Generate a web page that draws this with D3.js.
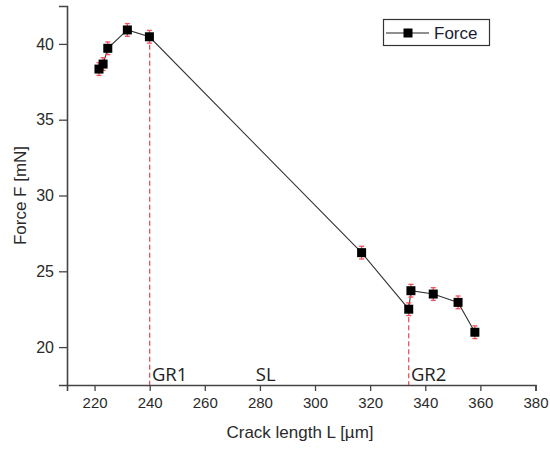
<!DOCTYPE html>
<html>
<head>
<meta charset="utf-8">
<script src="https://cdn.jsdelivr.net/npm/d3@7"></script>
<style>
  html, body { margin: 0; padding: 0; background: #fff; }
  svg { display: block; }
</style>
</head>
<body>
<svg id="chart" width="550" height="449"></svg>
<script>
// Measured crack lengths (µm) and the corresponding force (mN)
const crackLength = [221.6, 223.1, 224.8, 231.9, 239.9, 316.9, 334.0, 334.8, 342.9, 351.9, 358.0];
const force       = [38.34, 38.67, 39.71, 40.92, 40.47, 26.23, 22.50, 23.72, 23.50, 22.95, 20.98];
const forceError  = [0.42, 0.42, 0.42, 0.42, 0.42, 0.42, 0.42, 0.42, 0.42, 0.42, 0.42];

// Region boundaries and labels
const boundaryX = [240, 334];
const boundaryF = [40.47, 22.50];
const regionLabels = ["GR1", "SL", "GR2"];
const regionLabelX = [240.8, 278.5, 334.8];

const xTicks = [220, 240, 260, 280, 300, 320, 340, 360, 380];
const xMinorTicks = [210, 230, 250, 270, 290, 310, 330, 350, 370];
const yTicks = [20, 25, 30, 35, 40];
const yMinorTicks = [17.5, 22.5, 27.5, 32.5, 37.5, 42.5];

const svg = d3.select("#chart");
const x = d3.scaleLinear().domain([210, 380]).range([67, 535.5]);
const y = d3.scaleLinear().domain([17.5, 42.5]).range([385, 6]);

const axisColor = "#444";
const labelFont = "'Liberation Sans', Arial, sans-serif";

// X axis
const gx = svg.append("g").attr("transform", `translate(0,${y(17.5)})`);
gx.call(d3.axisBottom(x).tickValues(xMinorTicks).tickSize(3).tickFormat(""));
gx.call(d3.axisBottom(x).tickValues(xTicks).tickSize(6).tickPadding(6).tickFormat(d3.format("d")));
gx.selectAll("path.domain").attr("stroke", axisColor).attr("stroke-width", 1.6);
gx.selectAll("line").attr("stroke", axisColor).attr("stroke-width", 1.3);
gx.selectAll("text").attr("font-family", labelFont).attr("font-size", 15).attr("fill", "#2a2a2a");

// Y axis
const gy = svg.append("g").attr("transform", `translate(${x(210)},0)`);
gy.call(d3.axisLeft(y).tickValues(yMinorTicks).tickSize(4).tickFormat(""));
gy.call(d3.axisLeft(y).tickValues(yTicks).tickSize(8).tickPadding(5).tickFormat(d3.format("d")));
gy.selectAll("path.domain").attr("stroke", axisColor).attr("stroke-width", 1.6);
gy.selectAll("line").attr("stroke", axisColor).attr("stroke-width", 1.3);
gy.selectAll("text").attr("font-family", labelFont).attr("font-size", 16).attr("fill", "#2a2a2a");

// Axis titles
svg.append("text")
  .attr("x", 300).attr("y", 438)
  .attr("text-anchor", "middle")
  .attr("font-family", labelFont).attr("font-size", 17).attr("fill", "#2a2a2a")
  .text("Crack length L [µm]");
svg.append("text")
  .attr("transform", `translate(26,${y(30)}) rotate(-90)`)
  .attr("text-anchor", "middle")
  .attr("font-family", labelFont).attr("font-size", 17).attr("fill", "#2a2a2a")
  .text("Force F [mN]");

// Region boundary lines
svg.append("g").selectAll("line").data(boundaryX).join("line")
  .attr("x1", d => x(d)).attr("x2", d => x(d))
  .attr("y1", (d, i) => y(boundaryF[i])).attr("y2", y(17.5))
  .attr("stroke", "#e8454a").attr("stroke-width", 1.2)
  .attr("stroke-dasharray", "5,3");

// Region labels
svg.append("g").selectAll("text").data(regionLabels).join("text")
  .attr("x", (d, i) => x(regionLabelX[i])).attr("y", 381)
  .attr("font-family", "'Open Sans', sans-serif").attr("font-size", 18.5).attr("fill", "#222")
  .text(d => d);

const pts = crackLength.map((c, i) => ({ c, f: force[i], e: forceError[i] }));

// Connecting line
svg.append("path")
  .datum(pts)
  .attr("fill", "none").attr("stroke", "#333").attr("stroke-width", 1.1)
  .attr("d", d3.line().x(d => x(d.c)).y(d => y(d.f)));

// Error bars
const eb = svg.append("g").attr("stroke", "#f5505c").attr("stroke-width", 1.3);
eb.selectAll("line.v").data(pts).join("line").attr("class", "v")
  .attr("x1", d => x(d.c)).attr("x2", d => x(d.c))
  .attr("y1", d => y(d.f + d.e)).attr("y2", d => y(d.f - d.e));
eb.selectAll("line.t").data(pts).join("line").attr("class", "t")
  .attr("x1", d => x(d.c) - 2.5).attr("x2", d => x(d.c) + 2.5)
  .attr("y1", d => y(d.f + d.e)).attr("y2", d => y(d.f + d.e));
eb.selectAll("line.b").data(pts).join("line").attr("class", "b")
  .attr("x1", d => x(d.c) - 2.5).attr("x2", d => x(d.c) + 2.5)
  .attr("y1", d => y(d.f - d.e)).attr("y2", d => y(d.f - d.e));

// Square markers
const ms = 9;
svg.append("g").selectAll("rect").data(pts).join("rect")
  .attr("x", d => x(d.c) - ms / 2).attr("y", d => y(d.f) - ms / 2)
  .attr("width", ms).attr("height", ms)
  .attr("fill", "#000");

// Legend
const lg = svg.append("g");
lg.append("rect").attr("x", 383.5).attr("y", 19.5).attr("width", 106).attr("height", 26)
  .attr("fill", "#fff").attr("stroke", "#333").attr("stroke-width", 1.2);
lg.append("line").attr("x1", 386).attr("x2", 429).attr("y1", 33).attr("y2", 33)
  .attr("stroke", "#222").attr("stroke-width", 1.2);
lg.append("rect").attr("x", 403.5).attr("y", 28.5).attr("width", 9).attr("height", 9).attr("fill", "#000");
lg.append("text").attr("x", 434).attr("y", 39)
  .attr("font-family", labelFont).attr("font-size", 17).attr("fill", "#1c1c30")
  .text("Force");
</script>
</body>
</html>
